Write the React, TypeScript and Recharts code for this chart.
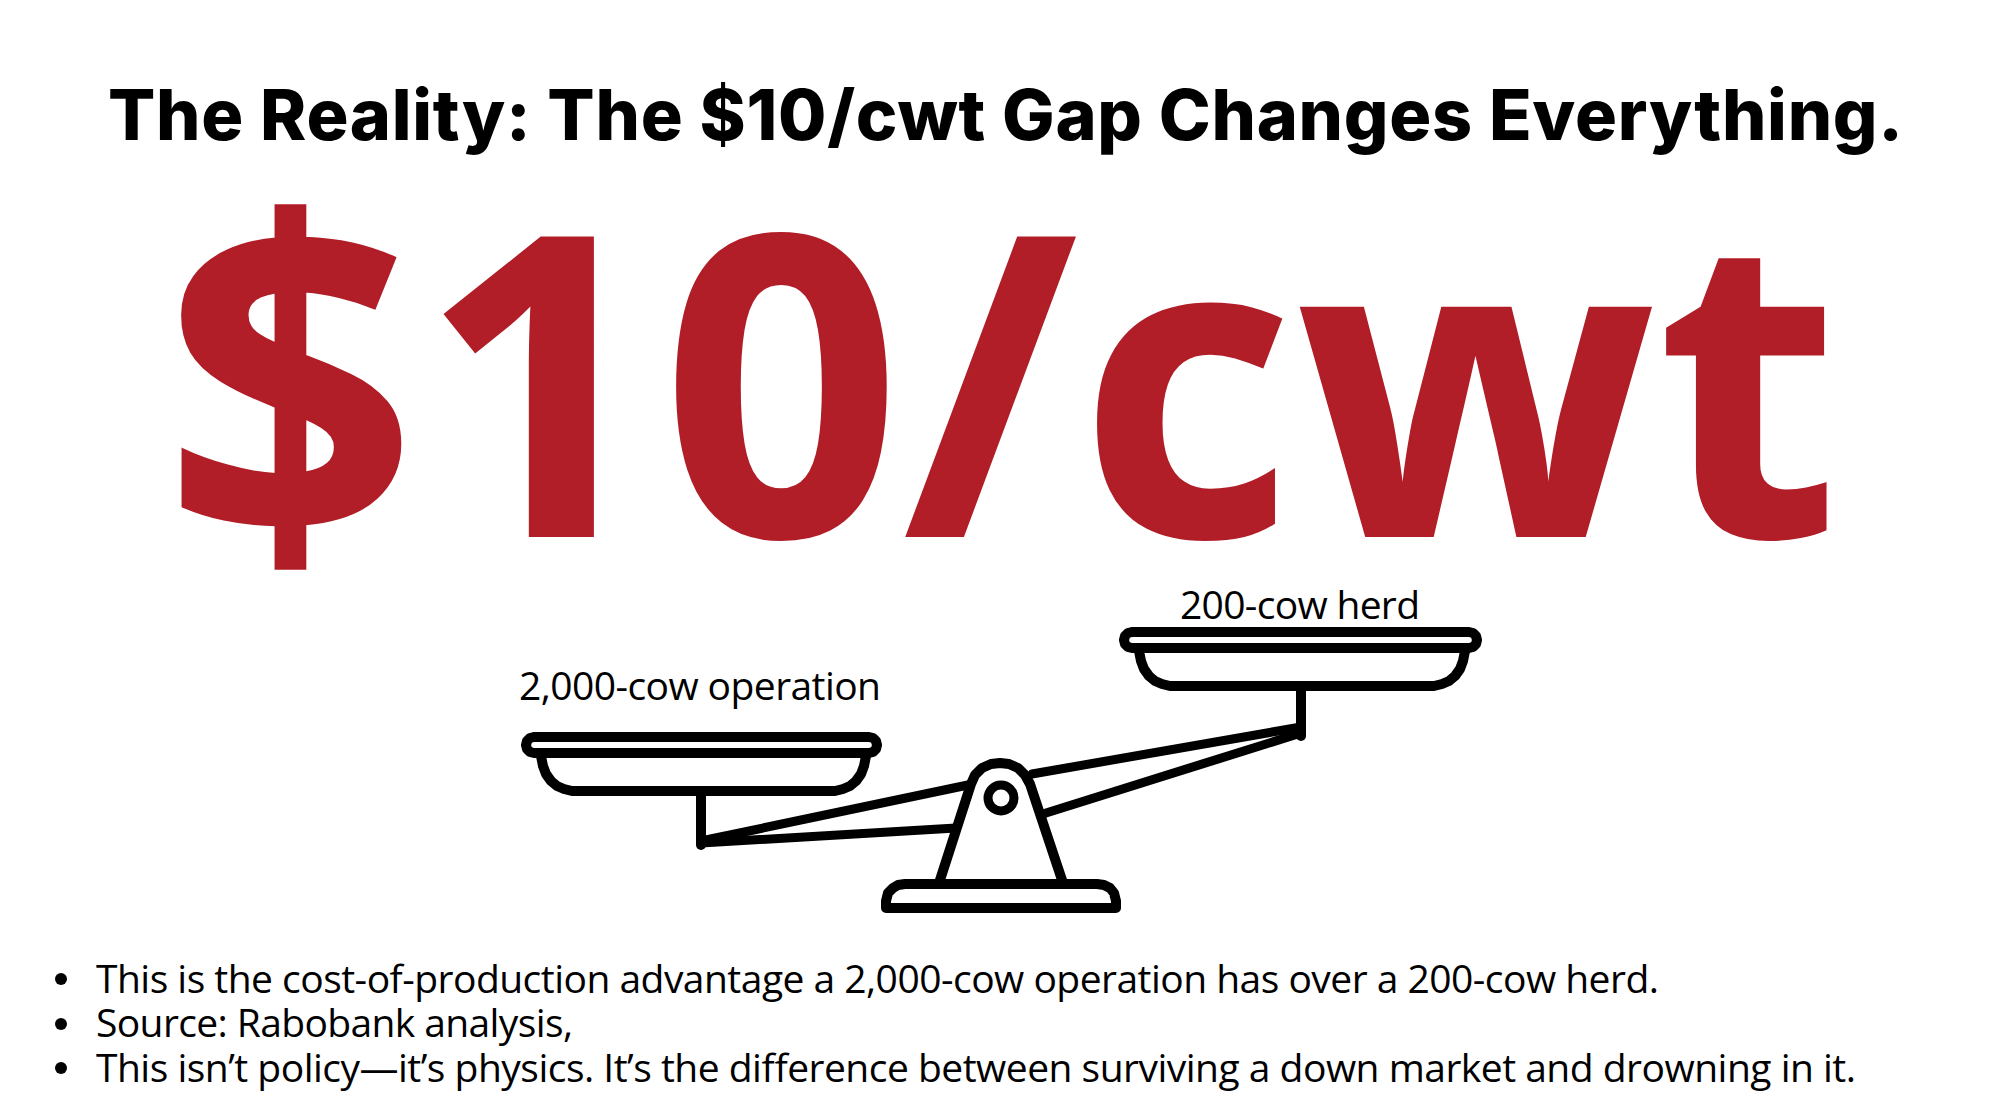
import { LineChart, Line, XAxis, YAxis, ReferenceDot } from "recharts";

const INK = "#000000";
const RED = "#B11E28";
const W = 2000;
const H = 1116;

const titleText = "The Reality: The $10/cwt Gap Changes Everything.";
const bigSign = "$";
const bigText = "10/cwt";
const leftLabel = "2,000-cow operation";
const rightLabel = "200-cow herd";
const bullets = [
  "This is the cost-of-production advantage a 2,000-cow operation has over a 200-cow herd.",
  "Source: Rabobank analysis,",
  "This isn\u2019t policy\u2014it\u2019s physics. It\u2019s the difference between surviving a down market and drowning in it.",
];

// outline points, in page pixels
const pts = (a: number[][]) => a.map(([x, y]) => ({ x, y }));

const leftRim = pts([[534,737],[869,737],[873,738],[876,741],[877,745],[876,749],[873,752],[869,753],[534,753],[530,752],[527,749],[526,745],[527,741],[530,738],[534,737]]);
const leftBowl = pts([[541,756],[543,766],[546,774],[551,781],[557,786],[564,789],[572,791],[835,791],[843,789],[850,786],[856,781],[861,774],[864,766],[866,756]]);
const leftStem = pts([[701,792],[701,845]]);
const rightRim = pts([[1132,632],[1469,632],[1473,633],[1476,636],[1477,640],[1476,644],[1473,647],[1469,648],[1132,648],[1128,647],[1125,644],[1124,640],[1125,636],[1128,633],[1132,632]]);
const rightBowl = pts([[1139,651],[1141,661],[1144,669],[1149,676],[1155,681],[1162,684],[1170,686],[1434,686],[1442,684],[1449,681],[1455,676],[1460,669],[1463,661],[1465,651]]);
const rightStem = pts([[1301,687],[1301,736]]);
const beamLeftTop = pts([[701,841],[968,785]]);
const beamLeftBottom = pts([[701,843],[956,828]]);
const beamRightTop = pts([[1032,774],[1301,727]]);
const beamRightBottom = pts([[1046,813],[1301,733]]);
const fulcrum = pts([[940,880],[971,784],[975,775],[982,768],[991,764],[1000,763],[1009,764],[1018,768],[1025,775],[1030,784],[1062,880]]);
const base = pts([[886,908],[886,901],[888,893],[893,888],[898,885],[905,884],[1097,884],[1104,885],[1110,888],[1114,893],[1116,901],[1116,908],[886,908]]);

const scaleParts = [
  leftRim, leftBowl, leftStem, rightRim, rightBowl, rightStem,
  beamLeftTop, beamLeftBottom, beamRightTop, beamRightBottom, fulcrum, base,
];

const pivot = { x: 1001, y: 798 };
const bulletDots = [
  { x: 61, y: 979 },
  { x: 61, y: 1024 },
  { x: 61, y: 1068 },
];

// text placed through the chart's scales, anchored at its left baseline
const Caption = ({ x, y, text, size, weight = 400, fill = INK, family = "Open Sans", len, thick = 0 }: any) => (
  <ReferenceDot
    x={x}
    y={y}
    r={0}
    isFront
    ifOverflow="visible"
    shape={(p: any) => (
      <text
        x={p.cx}
        y={p.cy}
        fontFamily={family}
        fontSize={size}
        fontWeight={weight}
        fill={fill}
        stroke={thick ? fill : "none"}
        strokeWidth={thick}
        textLength={len}
        lengthAdjust="spacing"
      >
        {text}
      </text>
    )}
  />
);

export default function App() {
  const bigTitle = (
    <>
      <tspan fontSize={445} dy={7}>{bigSign}</tspan>
      <tspan dy={-7}>{bigText}</tspan>
    </>
  );
  return (
    <div style={{ position: "absolute", left: 0, top: 0, width: W, height: H, background: "#fff" }}>
      <LineChart width={W} height={H} margin={{ top: 0, right: 0, bottom: 0, left: 0 }}>
        <XAxis type="number" dataKey="x" domain={[0, W]} hide allowDataOverflow />
        <YAxis type="number" dataKey="y" domain={[0, H]} reversed hide allowDataOverflow />

        {scaleParts.map((part, i) => (
          <Line
            key={i}
            data={part}
            dataKey="y"
            type="linear"
            stroke={INK}
            strokeWidth={i >= 6 && i < 10 ? 9 : 10}
            strokeLinejoin="round"
            strokeLinecap="round"
            dot={false}
            activeDot={false}
            isAnimationActive={false}
          />
        ))}

        <ReferenceDot x={pivot.x} y={pivot.y} r={13} fill="#fff" stroke={INK} strokeWidth={9} />
        {bulletDots.map((d, i) => (
          <ReferenceDot key={i} x={d.x} y={d.y} r={6} fill={INK} stroke="none" />
        ))}

        {Caption({ x: 108, y: 140, text: titleText, size: 70, weight: 800, family: "Inter", len: 1795 })}
        {Caption({ x: 163, y: 536, text: bigTitle, size: 418, weight: 700, fill: RED, len: 1676, thick: 2 })}
        {Caption({ x: 519, y: 700, text: leftLabel, size: 39, len: 362 })}
        {Caption({ x: 1180, y: 619, text: rightLabel, size: 39, len: 240 })}
        {Caption({ x: 96, y: 993, text: bullets[0], size: 39, len: 1563 })}
        {Caption({ x: 96, y: 1037, text: bullets[1], size: 39, len: 477 })}
        {Caption({ x: 96, y: 1082, text: bullets[2], size: 39, len: 1760 })}
      </LineChart>
    </div>
  );
}
